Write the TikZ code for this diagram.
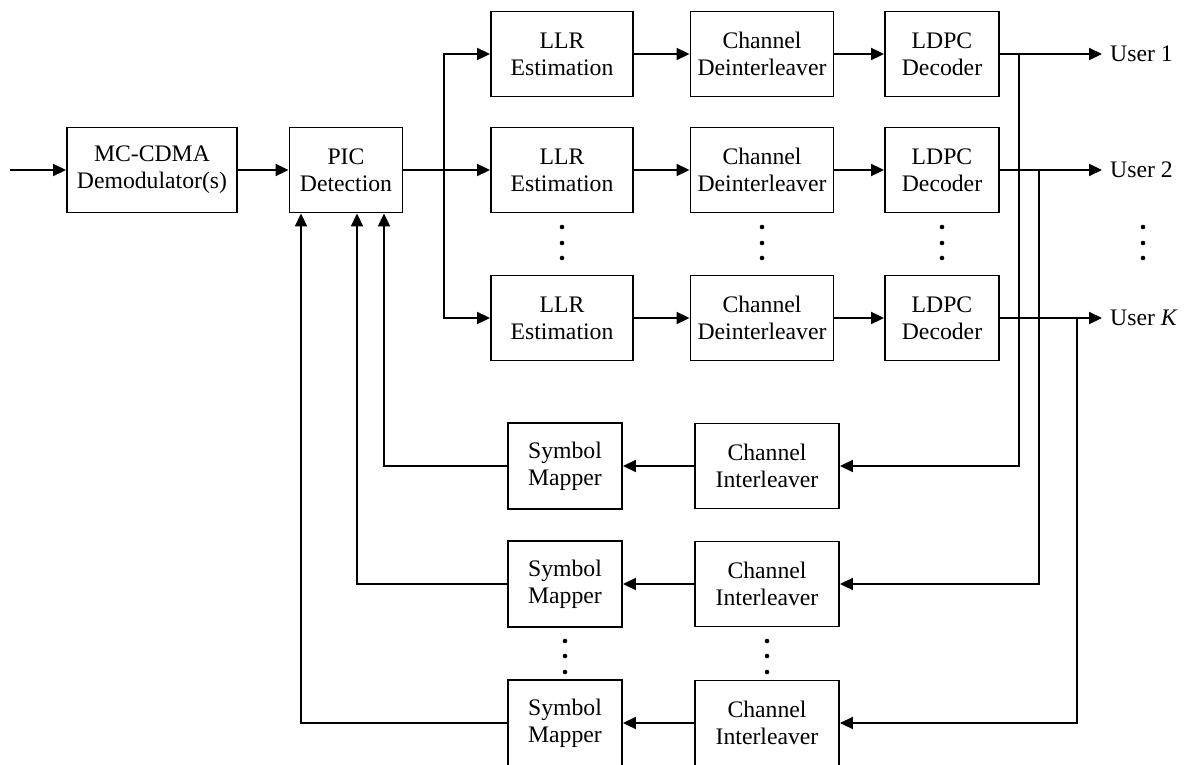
\documentclass[tikz,border=0pt]{standalone}
\usepackage{fontspec}
\setmainfont{Liberation Serif}
\usetikzlibrary{arrows.meta}
\tikzset{
  blk/.style={draw, line width=1.9pt, align=center, inner sep=0pt, minimum height=85pt,
    font=\fontsize{23.7}{27}\selectfont},
  lbl/.style={anchor=west, inner xsep=8pt, inner ysep=3pt, font=\fontsize{23.7}{27}\selectfont},
  arr/.style={line width=1.9pt, -{Triangle[length=13pt,width=12pt]}},
  ln/.style={line width=1.9pt}
}
\begin{document}
\begin{tikzpicture}[x=1pt, y=-1pt]
   \useasboundingbox (0,0) rectangle (1185,765);
   \node[blk, minimum width=170pt] (demod) at (152,170) {MC-CDMA\\Demodulator(s)};
   \node[blk, minimum width=113pt] (pic) at (346,170) {PIC\\Detection};
   \node[blk, minimum width=142pt] (llr1) at (562,54) {LLR\\Estimation};
   \node[blk, minimum width=142pt] (llr2) at (562,170) {LLR\\Estimation};
   \node[blk, minimum width=142pt] (llr3) at (562,318) {LLR\\Estimation};
   \node[blk, minimum width=143pt] (cdi1) at (762,54) {Channel\\Deinterleaver};
   \node[blk, minimum width=143pt] (cdi2) at (762,170) {Channel\\Deinterleaver};
   \node[blk, minimum width=143pt] (cdi3) at (762,318) {Channel\\Deinterleaver};
   \node[blk, minimum width=114pt] (dec1) at (942,54) {LDPC\\Decoder};
   \node[blk, minimum width=114pt] (dec2) at (942,170) {LDPC\\Decoder};
   \node[blk, minimum width=114pt] (dec3) at (942,318) {LDPC\\Decoder};
   \node[lbl] (usr1) at (1102,54) {User 1};
   \node[lbl] (usr2) at (1102,170) {User 2};
   \node[lbl] (usr3) at (1102,318) {User \textit{K}};
   \node[blk, minimum width=114pt, minimum height=86pt] (map1) at (565,466) {Symbol\\Mapper};
   \node[blk, minimum width=114pt, minimum height=86pt] (map2) at (565,584) {Symbol\\Mapper};
   \node[blk, minimum width=114pt, minimum height=86pt] (map3) at (565,723) {Symbol\\Mapper};
   \node[blk, minimum width=144pt] (cil1) at (767,466) {Channel\\Interleaver};
   \node[blk, minimum width=144pt] (cil2) at (767,584) {Channel\\Interleaver};
   \node[blk, minimum width=144pt] (cil3) at (767,723) {Channel\\Interleaver};
   \coordinate (in) at (10,170);
   \coordinate (split) at (444,170);
   \coordinate (tap1) at (1019,54);
   \coordinate (tap2) at (1039,170);
   \coordinate (tap3) at (1077,318);
   \draw[arr] (in) -- (demod);
   \draw[arr] (demod) -- (pic);
   \draw[arr] (pic) -- (llr2);
   \draw[arr] (split) |- (llr1);
   \draw[arr] (split) |- (llr3);
   \draw[arr] (llr1) -- (cdi1);
   \draw[arr] (llr2) -- (cdi2);
   \draw[arr] (llr3) -- (cdi3);
   \draw[arr] (cdi1) -- (dec1);
   \draw[arr] (cdi2) -- (dec2);
   \draw[arr] (cdi3) -- (dec3);
   \draw[arr] (dec1) -- (usr1);
   \draw[arr] (dec2) -- (usr2);
   \draw[arr] (dec3) -- (usr3);
   \draw[arr] (tap1) |- (cil1);
   \draw[arr] (tap2) |- (cil2);
   \draw[arr] (tap3) |- (cil3);
   \draw[arr] (cil1) -- (map1);
   \draw[arr] (cil2) -- (map2);
   \draw[arr] (cil3) -- (map3);
   \draw[arr] (map1) -| ([xshift=38pt]pic.south);
   \draw[arr] (map2) -| ([xshift=11pt]pic.south);
   \draw[arr] (map3) -| ([xshift=-45pt]pic.south);
   \fill (562,227) circle (2.3pt) (562,243) circle (2.3pt) (562,258) circle (2.3pt);
   \fill (762,227) circle (2.3pt) (762,243) circle (2.3pt) (762,258) circle (2.3pt);
   \fill (942,227) circle (2.3pt) (942,243) circle (2.3pt) (942,258) circle (2.3pt);
   \fill (1143,227) circle (2.3pt) (1143,243) circle (2.3pt) (1143,258) circle (2.3pt);
   \fill (565,641) circle (2.3pt) (565,656) circle (2.3pt) (565,672) circle (2.3pt);
   \fill (767,641) circle (2.3pt) (767,656) circle (2.3pt) (767,672) circle (2.3pt);
  \end{tikzpicture}
\end{document}
